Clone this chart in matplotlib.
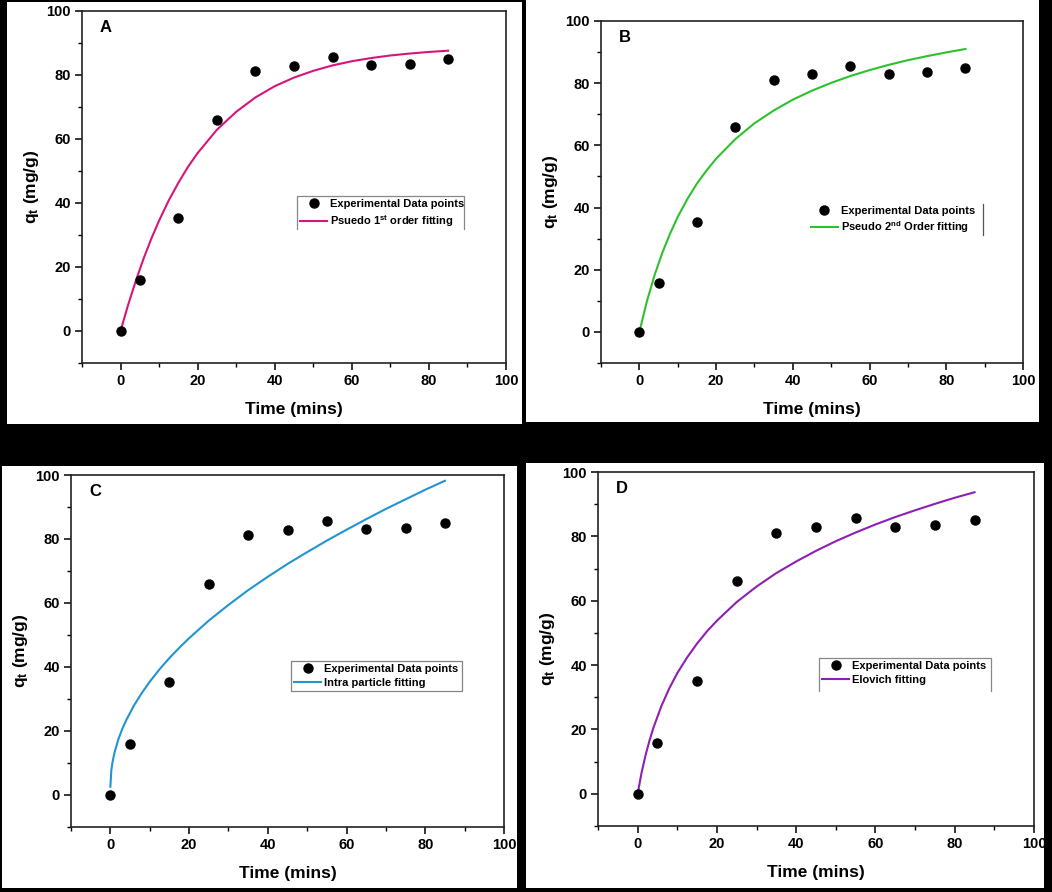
import matplotlib
matplotlib.use("Agg")
import matplotlib.pyplot as plt
from matplotlib.ticker import MultipleLocator

plt.rcParams['font.family'] = ['Liberation Sans', 'DejaVu Sans']
plt.rcParams['font.weight'] = 'bold'
plt.rcParams['mathtext.fontset'] = 'custom'
plt.rcParams['mathtext.rm'] = 'Liberation Sans:bold'
plt.rcParams['mathtext.it'] = 'Liberation Sans:bold'
plt.rcParams['mathtext.bf'] = 'Liberation Sans:bold'

# experimental data (same in all four panels)
time_exp = [0, 5, 15, 25, 35, 45, 55, 65, 75, 85]
qt_exp = [0, 15.8, 35.2, 66.0, 81.1, 82.9, 85.6, 83.0, 83.5, 85.0]

# fitted curves, values
t_fit = [0, 2, 4, 6, 8, 10, 12.5, 15, 17.5, 20, 25, 30, 35, 40, 45,
         50, 55, 60, 65, 70, 75, 80, 85]
q_pfo = [0, 8.3, 15.8, 22.7, 28.9, 34.5, 40.8, 46.3, 51.3, 55.6, 62.9,
         68.5, 73.0, 76.5, 79.2, 81.3, 83.0, 84.3, 85.3, 86.1, 86.7, 87.2, 87.6]
q_pso = [0, 10.0, 18.4, 25.5, 31.6, 37.0, 42.7, 47.7, 51.9, 55.7, 62.0,
         67.1, 71.2, 74.7, 77.6, 80.1, 82.3, 84.2, 85.9, 87.4, 88.7, 89.9, 91.0]

t_ipd = [0, 0.25, 0.5, 1, 2, 3, 4, 6, 8, 10, 12.5, 15, 17.5, 20, 25, 30,
         35, 40, 45, 50, 55, 60, 65, 70, 75, 80, 85]
q_ipd = [2.6, 7.8, 9.9, 13.0, 17.3, 20.6, 23.3, 28.0, 31.9, 35.4, 39.3,
         42.8, 46.0, 49.0, 54.5, 59.4, 64.0, 68.2, 72.2, 75.9, 79.5, 82.9,
         86.2, 89.4, 92.4, 95.4, 98.2]

t_elo = [0, 1, 2, 3, 4, 6, 8, 10, 12.5, 15, 17.5, 20, 25, 30, 35, 40, 45,
         50, 55, 60, 65, 70, 75, 80, 85]
q_elo = [0, 6.6, 12.0, 16.6, 20.6, 27.3, 32.8, 37.5, 42.4, 46.7, 50.5,
         53.8, 59.6, 64.4, 68.6, 72.2, 75.5, 78.5, 81.2, 83.7, 86.0, 88.1,
         90.1, 92.0, 93.7]

W, H = 1052, 892
fig = plt.figure(figsize=(W / 100, H / 100), dpi=100, facecolor='black')


def px_rect(x0, y0, x1, y1):
    return [x0 / W, (H - y1) / H, (x1 - x0) / W, (y1 - y0) / H]


# white backgrounds of the four pasted panels
for r in [(7, 2, 522, 424), (526, 0, 1039, 422),
          (2, 466, 517, 888), (526, 463, 1044, 888)]:
    bg = fig.add_axes(px_rect(*r))
    bg.set_facecolor('white')
    bg.set_xticks([])
    bg.set_yticks([])
    for s in bg.spines.values():
        s.set_visible(False)

panels = [
    ('A', (82, 11, 506, 363), t_fit, q_pfo, '#D6157A',
     'Psuedo 1$^{st}$ order fitting', (0.507, 0.475), 'open'),
    ('B', (601, 21, 1023, 363), t_fit, q_pso, '#2DC22D',
     'Pseudo 2$^{nd}$ Order fitting', (0.49, 0.47), 'bar'),
    ('C', (71, 475, 504, 827), t_ipd, q_ipd, '#2294D2',
     'Intra particle fitting', (0.508, 0.472), 'box'),
    ('D', (598, 472, 1034, 826), t_elo, q_elo, '#8E1FB4',
     'Elovich fitting', (0.507, 0.475), 'open'),
]

for letter, rect, tf, qf, col, lab, lpos, frame in panels:
    ax = fig.add_axes(px_rect(*rect))
    ax.plot(time_exp, qt_exp, 'o', color='black', markersize=6.5,
            label='Experimental Data points', zorder=3)
    ax.plot(tf, qf, '-', color=col, linewidth=1.5, label=lab)
    ax.set_xlim(-10, 100)
    ax.set_ylim(-10, 100)
    ax.xaxis.set_major_locator(MultipleLocator(20))
    ax.xaxis.set_minor_locator(MultipleLocator(10))
    ax.yaxis.set_major_locator(MultipleLocator(20))
    ax.yaxis.set_minor_locator(MultipleLocator(10))
    ax.tick_params(which='major', direction='out', length=5, width=1.1,
                   labelsize=10.5, pad=3)
    ax.tick_params(which='minor', direction='out', length=3, width=1.0)
    for s in ax.spines.values():
        s.set_linewidth(1.2)
        s.set_color('#222222')
    ax.set_xlabel('Time (mins)', fontsize=12.5, fontweight='bold', labelpad=10)
    ax.set_ylabel('q$_{t}$ (mg/g)', fontsize=12.5, fontweight='bold',
                  labelpad=4)
    ax.text(0.042, 0.975, letter, transform=ax.transAxes, fontsize=12,
            fontweight='bold', va='top', ha='left')
    leg = ax.legend(loc='upper left', bbox_to_anchor=lpos, fontsize=8,
                    frameon=(frame == 'box'), fancybox=False,
                    handlelength=2.4, handletextpad=0.3, borderpad=0.3,
                    labelspacing=0.35, borderaxespad=0)
    if frame == 'box':
        leg.get_frame().set_edgecolor('#666666')
        leg.get_frame().set_linewidth(0.9)
    elif frame == 'bar':
        ax.plot([0.905, 0.905], [0.375, 0.465], transform=ax.transAxes,
                color='#555555', linewidth=0.9)
    else:
        # legend box drawn without its bottom edge, as in the source
        x0, x1, y0, y1 = lpos[0], lpos[0] + 0.395, lpos[1] - 0.095, lpos[1]
        ax.plot([x0, x0, x1, x1], [y0, y1, y1, y0], transform=ax.transAxes,
                color='#888888', linewidth=0.9)

fig.savefig('out.png', dpi=100, facecolor='black')
